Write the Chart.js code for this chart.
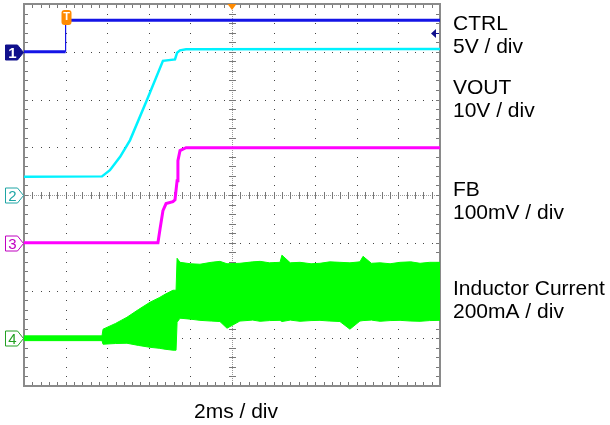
<!DOCTYPE html>
<html>
<head>
<meta charset="utf-8">
<script src="https://cdn.jsdelivr.net/npm/chart.js@4.4.1/dist/chart.umd.min.js"></script>
<style>
  body { margin: 0; background: #fff; }
  canvas { display: block; }
</style>
</head>
<body>
<canvas id="scope" width="610" height="425"></canvas>
<script>
// time axis in ms, 2ms/div, trigger at 0
const ctrlTime = [-2, 0, 0, 18];
const ctrlVolts = [0, 0, 3.3, 3.3];

const voutTime = [-2, 1.75, 2.13, 2.62, 3.10, 3.91, 4.68, 5.26, 5.36, 5.50, 5.79, 18];
const voutVolts = [3.8, 3.9, 5.2, 8.0, 11.5, 19.9, 28.1, 28.4, 29.8, 30.3, 30.5, 30.6];

const fbTime = [-2, 4.44, 4.54, 4.68, 4.83, 5.16, 5.26, 5.36, 5.40, 5.50, 5.79, 18];
const fbMilliVolts = [0, 0, 29, 67, 82, 86, 90, 130, 172, 193, 199, 199];

// inductor current ripple band (upper / lower edge), mA
const ilTime = [-2, 1.75, 1.80, 2.4, 2.95, 3.5, 4.06, 4.5, 4.78, 5.16, 5.31, 5.36, 5.5, 6.0, 6.46, 7.0, 7.42, 7.76, 8.38, 9.0, 9.35, 9.8, 10.31, 10.4, 10.8, 11.27, 11.8, 12.23, 12.7, 13.19, 13.67, 14.15, 14.3, 14.7, 15.12, 15.6, 16.08, 16.6, 17.04, 17.5, 18];
const ilHigh = [10, 10, 38, 62, 88, 120, 151, 170, 184, 201, 201, 335, 318, 312, 310, 318, 322, 312, 314, 320, 322, 316, 318, 348, 316, 318, 312, 314, 320, 318, 316, 320, 343, 314, 316, 312, 318, 320, 314, 318, 318];
const ilLow = [-10, -10, -25, -22, -21, -30, -38, -42, -46, -50, -50, 67, 84, 80, 75, 72, 70, 42, 72, 76, 71, 74, 75, 70, 76, 71, 74, 75, 72, 70, 38, 72, 74, 76, 71, 74, 75, 72, 71, 74, 75];

const channelLabels = [['CTRL', '5V / div'], ['VOUT', '10V / div'], ['FB', '100mV / div'], ['Inductor Current', '200mA / div']];
const timeLabel = '2ms / div';
const triggerLevel = 2; // V on CTRL

function pts(xs, ys) {
    return xs.map(function(x, i) { return {x: x, y: ys[i]}; });
}

// thin line on vertical edges, thick for the noisy flat parts
function edgeWidth(w) {
    return function(ctx) {
        return ctx.p0.parsed.x === ctx.p1.parsed.x ? 1.2 : w;
    };
}

const scopeGrid = {
    id: 'scopeGrid',
    beforeDatasetsDraw(chart) {
        const ctx = chart.ctx, a = chart.chartArea;
        const dx = (a.right - a.left) / 10, dy = (a.bottom - a.top) / 8;
        ctx.save();
        // dotted graticule
        ctx.fillStyle = '#444';
        for (let i = 1; i < 10; i++) {
            const x = Math.round(chart.scales.x.getPixelForValue(-2 + i * 2));
            for (let k = 1; k < 40; k++) ctx.fillRect(x, Math.round(a.top + k * dy / 5), 1, 1);
        }
        for (let j = 1; j < 8; j++) {
            const y = Math.round(a.top + j * dy);
            for (let k = 1; k < 50; k++) ctx.fillRect(Math.round(a.left + k * dx / 5), y, 1, 1);
        }
        // center cross with minor ticks
        const cx = Math.round(a.left + 5 * dx), cy = Math.round(a.top + 4 * dy);
        ctx.fillStyle = '#999';
        for (let y = a.top; y < a.bottom; y += 2) ctx.fillRect(cx, y, 1, 1);
        for (let x = a.left; x < a.right; x += 2) ctx.fillRect(x, cy, 1, 1);
        ctx.fillStyle = '#777';
        for (let k = 1; k < 40; k++) ctx.fillRect(cx - 3, Math.round(a.top + k * dy / 5), 7, 1);
        for (let k = 1; k < 50; k++) ctx.fillRect(Math.round(a.left + k * dx / 5), cy - 3, 1, 7);
        // border ticks
        for (let k = 1; k < 50; k++) {
            const x = Math.round(a.left + k * dx / 5);
            ctx.fillRect(x, a.top, 1, 4);
            ctx.fillRect(x, a.bottom - 4, 1, 4);
        }
        for (let k = 1; k < 40; k++) {
            const y = Math.round(a.top + k * dy / 5);
            ctx.fillRect(a.left, y, 4, 1);
            ctx.fillRect(a.right - 4, y, 4, 1);
        }
        ctx.strokeStyle = '#8a8a8a';
        ctx.lineWidth = 2;
        ctx.strokeRect(a.left, a.top, a.right - a.left, a.bottom - a.top);
        ctx.restore();
    },
    afterDraw(chart) {
        const ctx = chart.ctx, a = chart.chartArea;
        ctx.save();
        // channel ground markers
        const marks = [
            {axis: 'y1', n: '1', col: '#10108c', fill: true},
            {axis: 'y2', n: '2', col: '#1ea5a5', fill: false},
            {axis: 'y3', n: '3', col: '#c000c0', fill: false},
            {axis: 'y4', n: '4', col: '#22a022', fill: false}
        ];
        marks.forEach(function(m) {
            const y = Math.round(chart.scales[m.axis].getPixelForValue(0)) + 0.5;
            ctx.beginPath();
            ctx.moveTo(5.5, y - 7.5);
            ctx.lineTo(17.5, y - 7.5);
            ctx.lineTo(23.5, y);
            ctx.lineTo(17.5, y + 7.5);
            ctx.lineTo(5.5, y + 7.5);
            ctx.closePath();
            ctx.fillStyle = m.fill ? m.col : '#fff';
            ctx.fill();
            ctx.strokeStyle = m.col;
            ctx.lineWidth = 1;
            ctx.stroke();
            ctx.fillStyle = m.fill ? '#fff' : m.col;
            ctx.font = (m.fill ? 'bold ' : '') + '15px "Liberation Sans", Arial, sans-serif';
            ctx.textAlign = 'center';
            ctx.textBaseline = 'middle';
            ctx.fillText(m.n, 12.5, y + 1);
        });
        // trigger marker "T"
        const tx = Math.round(chart.scales.x.getPixelForValue(0));
        ctx.fillStyle = '#ff8a00';
        ctx.beginPath();
        ctx.roundRect(tx - 4.5, 10, 10, 15, 3);
        ctx.fill();
        ctx.fillStyle = '#fff';
        ctx.font = 'bold 11px "Liberation Sans", Arial, sans-serif';
        ctx.textAlign = 'center';
        ctx.textBaseline = 'middle';
        ctx.fillText('T', tx + 0.5, 17);
        // trigger position triangle at top center
        const mx = chart.scales.x.getPixelForValue(8);
        ctx.fillStyle = '#ff8a00';
        ctx.beginPath();
        ctx.moveTo(mx - 4.5, a.top);
        ctx.lineTo(mx + 4.5, a.top);
        ctx.lineTo(mx, a.top + 6);
        ctx.closePath();
        ctx.fill();
        // trigger level arrow on the right edge
        const ly = Math.round(chart.scales.y1.getPixelForValue(triggerLevel)) + 0.5;
        ctx.fillStyle = '#10108c';
        ctx.beginPath();
        ctx.moveTo(a.right - 9, ly);
        ctx.lineTo(a.right - 4, ly - 4.5);
        ctx.lineTo(a.right - 4, ly + 4.5);
        ctx.closePath();
        ctx.fill();
        ctx.fillRect(a.right - 4, ly - 0.5, 3, 1);
        // labels
        ctx.fillStyle = '#000';
        ctx.font = '21px "Liberation Sans", Arial, sans-serif';
        ctx.textAlign = 'left';
        ctx.textBaseline = 'alphabetic';
        const base = [30, 94, 196, 295];
        channelLabels.forEach(function(l, i) {
            ctx.fillText(l[0], 453, base[i]);
            ctx.fillText(l[1], 453, base[i] + 23);
        });
        ctx.textAlign = 'center';
        ctx.fillText(timeLabel, 236, 418);
        ctx.restore();
    }
};

const chart = new Chart(document.getElementById('scope'), {
    type: 'line',
    data: {
        datasets: [
            {
                data: pts(ilTime, ilHigh), yAxisID: 'y4',
                borderColor: '#00ff00', borderWidth: 1, backgroundColor: '#00ff00',
                fill: '+1', pointRadius: 0
            },
            {
                data: pts(ilTime, ilLow), yAxisID: 'y4',
                borderColor: '#00ff00', borderWidth: 1, pointRadius: 0, fill: false
            },
            {
                data: pts(fbTime, fbMilliVolts), yAxisID: 'y3',
                borderColor: '#ff00ff', borderWidth: 3, pointRadius: 0, fill: false,
                segment: {borderWidth: edgeWidth(3)}
            },
            {
                data: pts(voutTime, voutVolts), yAxisID: 'y2',
                borderColor: '#00f2ff', borderWidth: 2.5, pointRadius: 0, fill: false,
                segment: {borderWidth: edgeWidth(2.5)}
            },
            {
                data: pts(ctrlTime, ctrlVolts), yAxisID: 'y1',
                borderColor: '#1414e6', borderWidth: 3, pointRadius: 0, fill: false,
                segment: {borderWidth: edgeWidth(3)}
            }
        ]
    },
    options: {
        responsive: false,
        animation: false,
        devicePixelRatio: 1,
        events: [],
        layout: {padding: {left: 24, top: 4, right: 170, bottom: 39}},
        plugins: {legend: {display: false}, tooltip: {enabled: false}},
        scales: {
            x: {type: 'linear', min: -2, max: 18, display: false},
            y1: {type: 'linear', min: -35, max: 5, display: false},
            y2: {type: 'linear', min: -40, max: 40, display: false},
            y3: {type: 'linear', min: -300, max: 500, display: false},
            y4: {type: 'linear', min: -200, max: 1400, display: false}
        }
    },
    plugins: [scopeGrid]
});
</script>
</body>
</html>
